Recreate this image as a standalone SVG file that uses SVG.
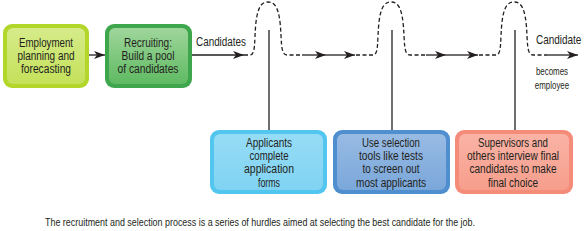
<svg xmlns="http://www.w3.org/2000/svg" width="585" height="231" viewBox="0 0 585 231">
<style>
text{font-family:"Liberation Sans",Arial,sans-serif;font-size:12px;fill:#231f20;text-anchor:middle}
.cap{font-size:10.5px}
.lab{text-anchor:start}
.ln{stroke:#231f20;stroke-width:1.3;fill:none}
.dash{stroke:#231f20;stroke-width:1.3;fill:none;stroke-dasharray:4 2.5}
</style>
<defs>
<marker id="ah" markerWidth="12" markerHeight="8" refX="11" refY="4" orient="auto" markerUnits="userSpaceOnUse">
<path d="M0,0 L11,4 L0,8 L3,4 Z" fill="#231f20"/>
</marker>
<linearGradient id="g1" x1="0" y1="0" x2="0" y2="1"><stop offset="0" stop-color="#d6eb8a"/><stop offset="1" stop-color="#c4e15a"/></linearGradient>
<linearGradient id="g2" x1="0" y1="0" x2="0" y2="1"><stop offset="0" stop-color="#9fd69b"/><stop offset="1" stop-color="#5fba62"/></linearGradient>
<linearGradient id="g3" x1="0" y1="0" x2="0" y2="1"><stop offset="0" stop-color="#96dcf6"/><stop offset="1" stop-color="#80d3f3"/></linearGradient>
<linearGradient id="g4" x1="0" y1="0" x2="0" y2="1"><stop offset="0" stop-color="#98bbe3"/><stop offset="1" stop-color="#7aa7da"/></linearGradient>
<linearGradient id="g5" x1="0" y1="0" x2="0" y2="1"><stop offset="0" stop-color="#f9b3a5"/><stop offset="1" stop-color="#f79e8c"/></linearGradient>
</defs>

<g id="connectors">
<line class="ln" x1="89" y1="55" x2="105" y2="55" marker-end="url(#ah)"/>
<line class="ln" x1="192" y1="55" x2="244" y2="55" marker-end="url(#ah)"/>
<path class="dash" d="M244,55 L250,55 C256,55 254,40 256,22 C258,6 262,2 268,2 C274,2 278,6 280,22 C282,40 280,55 287,55 L302,55"/>
<line class="ln" x1="302" y1="55" x2="326" y2="55" marker-end="url(#ah)"/>
<line class="ln" x1="326" y1="55" x2="355" y2="55" marker-end="url(#ah)"/>
<path class="dash" d="M356,55 L373,55 C379,55 377,40 379,22 C381,6 385,2 391,2 C397,2 401,6 403,22 C405,40 403,55 410,55 L426,55"/>
<line class="ln" x1="426" y1="55" x2="446" y2="55" marker-end="url(#ah)"/>
<line class="ln" x1="446" y1="55" x2="478" y2="55" marker-end="url(#ah)"/>
<path class="dash" d="M479,55 L496,55 C502,55 500,40 502,22 C504,6 508,2 514,2 C520,2 524,6 526,22 C528,40 526,55 533,55 L547,55"/>
<line class="ln" x1="547" y1="55" x2="578" y2="55" marker-end="url(#ah)"/>
<line class="ln" x1="269" y1="30" x2="269" y2="131"/>
<line class="ln" x1="392" y1="30" x2="392" y2="131"/>
<line class="ln" x1="515" y1="30" x2="515" y2="131"/>
<text class="lab" x="196" y="46" textLength="50" lengthAdjust="spacingAndGlyphs">Candidates</text>
<text class="lab" transform="translate(536,44) scale(0.83,1)" x="0" y="0">Candidate</text>
<text transform="translate(552,75) scale(0.72,1)" x="0" y="0" style="font-size:11px">becomes</text>
<text transform="translate(552,89) scale(0.72,1)" x="0" y="0" style="font-size:11px">employee</text>
</g>

<g id="n1">
<rect x="3" y="24" width="86" height="64" rx="9" fill="#b3d62a"/>
<rect x="7" y="28" width="78" height="56" rx="6" fill="url(#g1)"/>
<text x="46" y="47" textLength="54" lengthAdjust="spacingAndGlyphs">Employment</text>
<text x="46" y="60" textLength="57" lengthAdjust="spacingAndGlyphs">planning and</text>
<text x="46" y="73" textLength="50" lengthAdjust="spacingAndGlyphs">forecasting</text>
</g>

<g id="n2">
<rect x="105" y="24" width="87" height="64" rx="9" fill="#3ea74d"/>
<rect x="109" y="28" width="79" height="56" rx="6" fill="url(#g2)"/>
<text x="148" y="47" textLength="48" lengthAdjust="spacingAndGlyphs">Recruiting:</text>
<text x="148" y="60" textLength="53" lengthAdjust="spacingAndGlyphs">Build a pool</text>
<text x="148" y="73" textLength="61" lengthAdjust="spacingAndGlyphs">of candidates</text>
</g>

<g id="n3">
<rect x="210" y="130" width="117" height="64" rx="9" fill="#52c6ef"/>
<rect x="214" y="134" width="109" height="56" rx="6" fill="url(#g3)"/>
<text x="269" y="147" textLength="46" lengthAdjust="spacingAndGlyphs">Applicants</text>
<text x="269" y="160" textLength="39" lengthAdjust="spacingAndGlyphs">complete</text>
<text x="269" y="173" textLength="50" lengthAdjust="spacingAndGlyphs">application</text>
<text x="269" y="187" textLength="22" lengthAdjust="spacingAndGlyphs">forms</text>
</g>

<g id="n4">
<rect x="333" y="130" width="117" height="64" rx="9" fill="#4f8fcf"/>
<rect x="337" y="134" width="109" height="56" rx="6" fill="url(#g4)"/>
<text x="391" y="147" textLength="58" lengthAdjust="spacingAndGlyphs">Use selection</text>
<text x="391" y="160" textLength="64" lengthAdjust="spacingAndGlyphs">tools like tests</text>
<text x="391" y="173" textLength="57" lengthAdjust="spacingAndGlyphs">to screen out</text>
<text x="391" y="187" textLength="70" lengthAdjust="spacingAndGlyphs">most applicants</text>
</g>

<g id="n5">
<rect x="455" y="130" width="118" height="64" rx="9" fill="#f58b79"/>
<rect x="459" y="134" width="110" height="56" rx="6" fill="url(#g5)"/>
<text x="513" y="147" textLength="70" lengthAdjust="spacingAndGlyphs">Supervisors and</text>
<text x="513" y="160" textLength="92" lengthAdjust="spacingAndGlyphs">others interview final</text>
<text x="513" y="173" textLength="87" lengthAdjust="spacingAndGlyphs">candidates to make</text>
<text x="513" y="187" textLength="50" lengthAdjust="spacingAndGlyphs">final choice</text>
</g>

<text class="cap" x="260" y="226" textLength="430" lengthAdjust="spacingAndGlyphs">The recruitment and selection process is a series of hurdles aimed at selecting the best candidate for the job.</text>
</svg>
